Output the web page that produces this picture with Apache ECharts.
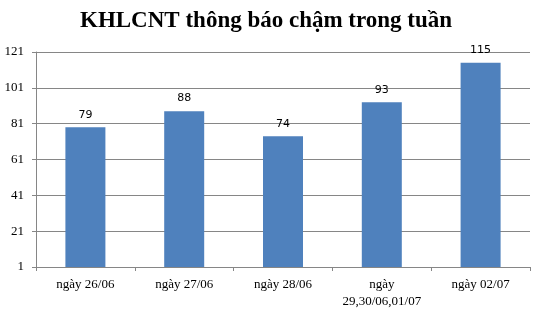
<!DOCTYPE html>
<html><head><meta charset="utf-8">
<script src="https://cdn.jsdelivr.net/npm/echarts@6/dist/echarts.min.js"></script>
<style>html,body{margin:0;padding:0;background:#fff}#c{width:542px;height:310px}</style>
</head><body><div id="c"></div>
<script>
const categories = ['ngày 26/06', 'ngày 27/06', 'ngày 28/06', 'ngày\n29,30/06,01/07', 'ngày 02/07'];
const values = [79, 88, 74, 93, 115];
const yTicks = [1, 21, 41, 61, 81, 101, 121];
const titleText = 'KHLCNT thông báo chậm trong tuần';

const chart = echarts.init(document.getElementById('c'), null, {renderer: 'canvas'});
chart.setOption({
  animation: false,
  backgroundColor: '#fff',
  title: {
    text: titleText, left: 75, top: 5,
    textStyle: {fontFamily: 'Liberation Serif', fontWeight: 'bold', fontSize: 23, color: '#000'}
  },
  grid: {left: 36, right: 12, top: 52, bottom: 42, containLabel: false},
  xAxis: {
    type: 'category', data: categories,
    axisLine: {lineStyle: {color: '#868686', width: 1}},
    axisTick: {show: true, alignWithLabel: false, length: 4, lineStyle: {color: '#868686'}},
    axisLabel: {fontFamily: 'Liberation Serif', fontSize: 13, color: '#000', margin: 9, lineHeight: 17, interval: 0}
  },
  yAxis: {
    type: 'value', min: yTicks[0], max: yTicks[yTicks.length - 1],
    axisLine: {show: true, lineStyle: {color: '#868686', width: 1}},
    axisTick: {show: true, length: 4, lineStyle: {color: '#868686'}, customValues: yTicks},
    axisLabel: {fontFamily: 'Liberation Serif', fontSize: 13, color: '#000', margin: 12, customValues: yTicks},
    splitLine: {show: true, lineStyle: {color: '#868686', width: 1}}
  },
  series: [{
    type: 'bar', data: values, barWidth: 40,
    itemStyle: {color: '#4F81BD'},
    label: {show: true, position: 'top', distance: 7, fontFamily: 'DejaVu Sans', fontSize: 11, color: '#000'}
  }]
});
</script></body></html>
